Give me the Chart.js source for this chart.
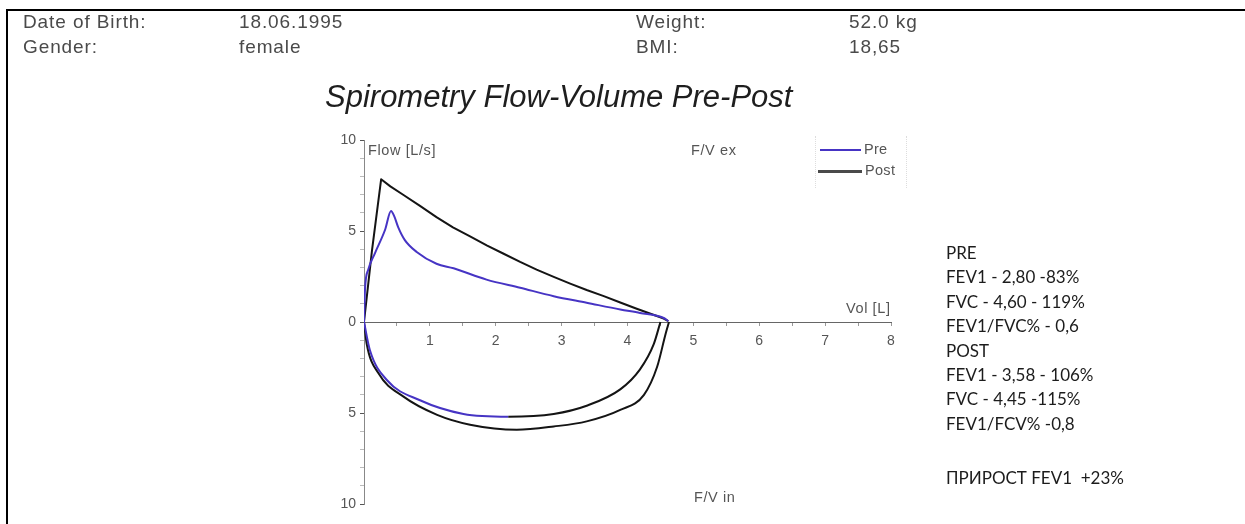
<!DOCTYPE html>
<html><head><meta charset="utf-8">
<script src="https://cdn.jsdelivr.net/npm/chart.js@4"></script>
<style>
html,body{margin:0;padding:0;background:#fff;}
body{width:1245px;height:524px;position:relative;overflow:hidden;font-family:"Liberation Sans",Arial,sans-serif;}
#frame{position:absolute;left:6px;top:9px;width:1260px;height:540px;border-top:2px solid #000;border-left:2px solid #000;pointer-events:none;}
#c{position:absolute;left:0;top:0;}
.t{position:absolute;white-space:nowrap;}
.hd{font-size:19px;line-height:19px;color:#4a4a4a;letter-spacing:0.9px;}
#title{left:325px;top:81px;font-size:31px;line-height:31px;font-style:italic;color:#1e1e1e;}
.ann{font-size:14.5px;line-height:16px;color:#555;letter-spacing:0.6px;}
#stats{left:946px;top:241px;font-family:Lato,"Open Sans",sans-serif;font-size:17px;line-height:24.4px;color:#1c1c1c;}
.lg{position:absolute;}
</style></head>
<body>
<canvas id="c" width="1245" height="524"></canvas>
<div id="frame"></div>
<div class="t hd" style="left:23px;top:12px">Date of Birth:</div>
<div class="t hd" style="left:239px;top:12px">18.06.1995</div>
<div class="t hd" style="left:23px;top:37px">Gender:</div>
<div class="t hd" style="left:239px;top:37px">female</div>
<div class="t hd" style="left:636px;top:12px">Weight:</div>
<div class="t hd" style="left:849px;top:12px">52.0 kg</div>
<div class="t hd" style="left:636px;top:37px">BMI:</div>
<div class="t hd" style="left:849px;top:37px">18,65</div>
<div class="t" id="title">Spirometry Flow-Volume Pre-Post</div>
<div class="t ann" style="left:368px;top:142px">Flow [L/s]</div>
<div class="t ann" style="left:691px;top:142px">F/V ex</div>
<div class="t ann" style="left:846px;top:300px">Vol [L]</div>
<div class="t ann" style="left:694px;top:489px">F/V in</div>
<div id="legend"></div>
<div class="t" id="stats">
<div>PRE</div>
<div>FEV1 - 2,80 -83%</div>
<div>FVC - 4,60 - 119%</div>
<div>FEV1/FVC% - 0,6</div>
<div>POST</div>
<div>FEV1 - 3,58 - 106%</div>
<div>FVC - 4,45 -115%</div>
<div>FEV1/FCV% -0,8</div>
<div style="margin-top:30px">ПРИРОСТ FEV1&nbsp; +23%</div>
</div>
<script>
// ---- data (volume in L, flow in L/s; inspiration negative) ----
const preExpVol  = [0, 0.015, 0.065, 0.167, 0.32, 0.41, 0.46, 0.52, 0.62, 0.80, 1.10, 1.36, 1.86, 2.37, 2.88, 3.38, 3.89, 4.19, 4.55, 4.62];
const preExpFlow = [0, 1.79, 2.88, 3.79, 5.07, 6.1, 5.8, 5.2, 4.5, 3.85, 3.2, 2.95, 2.33, 1.88, 1.42, 1.06, 0.69, 0.5, 0.22, 0.05];
const preInVol   = [0, 0.09, 0.35, 0.85, 1.51, 2.19, 2.88, 3.38, 3.89, 4.19, 4.40, 4.50];
const preInFlow  = [0, -1.55, -3.2, -4.3, -5.05, -5.2, -5.05, -4.6, -3.7, -2.6, -1.2, 0];
const postExpVol  = [0, 0.12, 0.26, 0.40, 0.60, 0.85, 1.10, 1.35, 1.61, 1.87, 2.12, 2.37, 2.62, 2.88, 3.13, 3.38, 3.64, 3.89, 4.14, 4.35, 4.55, 4.62];
const postExpFlow = [0, 3.9, 7.84, 7.45, 6.98, 6.38, 5.76, 5.2, 4.70, 4.2, 3.75, 3.3, 2.88, 2.48, 2.11, 1.76, 1.42, 1.07, 0.73, 0.45, 0.19, 0.05];
const postInVol  = [0, 0.04, 0.22, 0.60, 1.11, 1.61, 2.32, 2.88, 3.38, 3.89, 4.25, 4.45, 4.58, 4.63];
const postInFlow = [0, -1.18, -2.82, -4.1, -5.1, -5.64, -5.92, -5.74, -5.46, -4.83, -4.0, -2.46, -0.63, 0];
const seriesLabels = ['Pre', 'Post'];
const yTickLabels = [10, 5, 0, -5, -10];
const xTickLabels = [1, 2, 3, 4, 5, 6, 7, 8];
const preInBlackFrom = 2.19; // scan shows pre inspiratory tail in black

const BLUE = '#4634c4', BLACK = '#141414', GRAY = '#555';
const pts = (xs, ys) => xs.map((x, i) => ({x, y: ys[i]}));
const base = {showLine: true, pointRadius: 0, borderWidth: 2, cubicInterpolationMode: 'monotone', fill: false};

const chart = new Chart(document.getElementById('c'), {
  type: 'scatter',
  data: {datasets: [
    {...base, label: seriesLabels[0], data: pts(preExpVol, preExpFlow), borderColor: BLUE},
    {...base, label: seriesLabels[0], data: pts(preInVol, preInFlow), borderColor: BLUE,
      segment: {borderColor: c => c.p0.parsed.x >= preInBlackFrom ? BLACK : BLUE}},
    {...base, label: seriesLabels[1], data: pts(postExpVol, postExpFlow), borderColor: BLACK,
      cubicInterpolationMode: 'default', tension: 0, borderJoinStyle: 'round'},
    {...base, label: seriesLabels[1], data: pts(postInVol, postInFlow), borderColor: BLACK}
  ]},
  options: {
    responsive: false, animation: false,
    layout: {padding: {left: 331, right: 354, top: 140, bottom: 20}},
    plugins: {legend: {display: false}, tooltip: {enabled: false}},
    scales: {
      x: {
        type: 'linear', min: 0, max: 8, position: {y: 0},
        border: {display: true, color: '#666', width: 1},
        grid: {drawOnChartArea: false, drawTicks: true, tickLength: 3, color: '#999'},
        ticks: {stepSize: 0.5, autoSkip: false, maxRotation: 0, padding: 8, color: GRAY,
          font: {family: 'Liberation Sans', size: 14},
          callback: v => xTickLabels.includes(v) ? String(v) : ''}
      },
      y: {
        type: 'linear', min: -10, max: 10,
        afterFit: s => { s.width = 33; },
        border: {display: true, color: '#888', width: 1, dash: [2, 2]},
        grid: {drawOnChartArea: false, drawTicks: true, tickLength: 4,
          color: c => yTickLabels.includes(c.tick && c.tick.value) ? '#555' : '#bbb'},
        ticks: {stepSize: 1, autoSkip: false, padding: 4, color: GRAY,
          font: {family: 'Liberation Sans', size: 14},
          callback: v => yTickLabels.includes(v) ? String(Math.abs(v)) : ''}
      }
    }
  }
});

// legend built from the datasets
const lg = document.getElementById('legend');
const legendDefs = [
  {ds: chart.data.datasets[0], top: 150, x1: 820, x2: 861, w: 2, color: BLUE},
  {ds: chart.data.datasets[2], top: 171, x1: 818, x2: 862, w: 3, color: '#4a4a4a'}
];
legendDefs.forEach(d => {
  const line = document.createElement('div');
  line.className = 'lg';
  line.style.cssText = `left:${d.x1}px;top:${d.top - d.w/2}px;width:${d.x2 - d.x1}px;height:${d.w}px;background:${d.color}`;
  lg.appendChild(line);
  const txt = document.createElement('div');
  txt.className = 't ann';
  txt.style.cssText = `left:${d.x2 + 3}px;top:${d.top - 9}px;letter-spacing:0.3px;`;
  txt.textContent = d.ds.label;
  lg.appendChild(txt);
});
const box = document.createElement('div');
box.className = 'lg';
box.style.cssText = 'left:815px;top:136px;width:90px;height:52px;border-left:1px dotted #ddd;border-right:1px dotted #ddd;';
lg.appendChild(box);
</script>
</body></html>
